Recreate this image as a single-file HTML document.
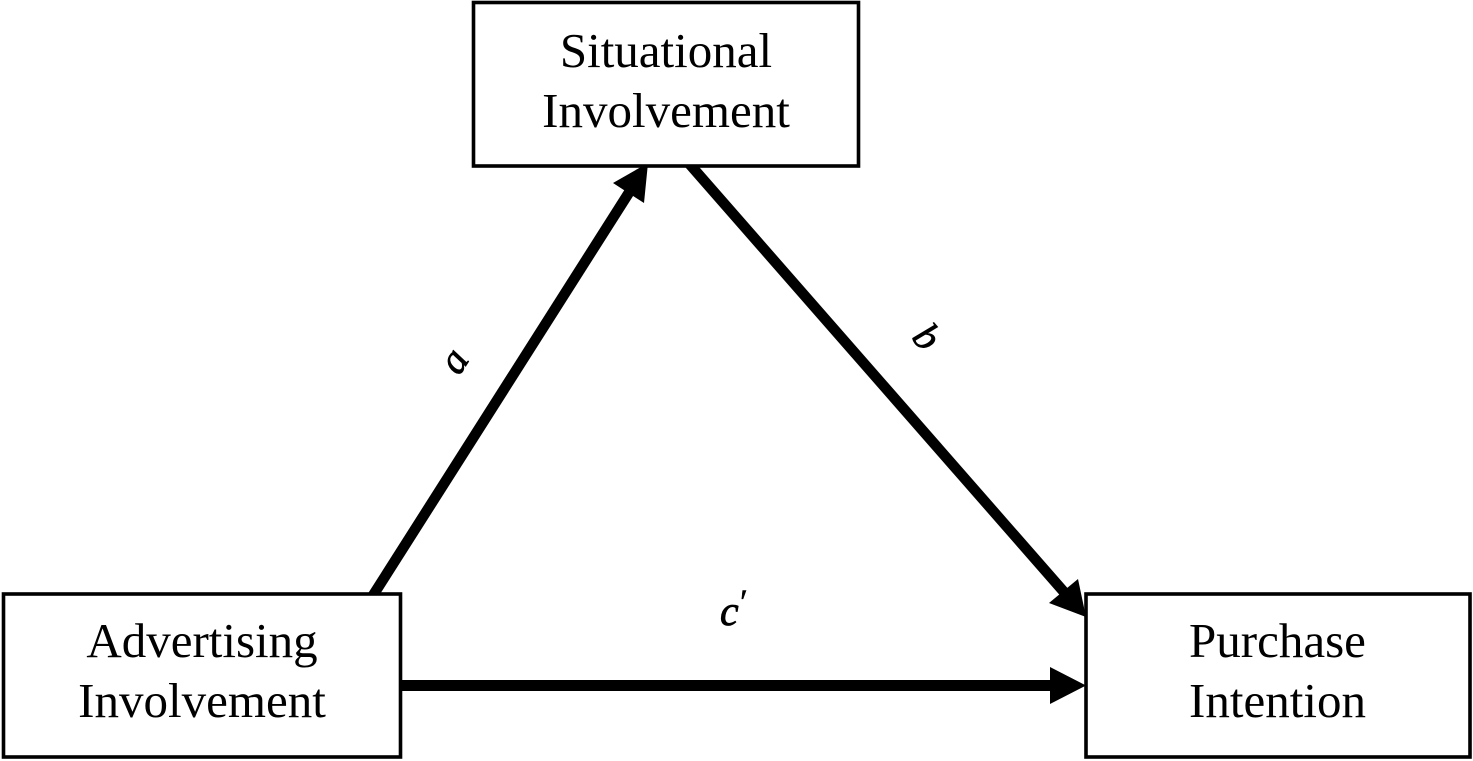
<!DOCTYPE html>
<html>
<head>
<meta charset="utf-8">
<style>
  html, body { margin: 0; padding: 0; background: #ffffff; }
  svg { display: block; }
  text { font-family: "Liberation Serif", "Times New Roman", serif; fill: #000; }
</style>
</head>
<body>
<svg width="1473" height="761" viewBox="0 0 1473 761" xmlns="http://www.w3.org/2000/svg">
  <rect x="0" y="0" width="1473" height="761" fill="#ffffff"/>

  <!-- Arrow a: Advertising -> Situational -->
  <line x1="372" y1="597" x2="630" y2="191" stroke="#000" stroke-width="10.5"/>
  <polygon points="648,163 613,183 644,203" fill="#000"/>

  <!-- Arrow b: Situational -> Purchase -->
  <line x1="686" y1="160" x2="1064" y2="592" stroke="#000" stroke-width="10.5"/>
  <polygon points="1086,617 1049,603 1078,579" fill="#000"/>

  <!-- Arrow c': Advertising -> Purchase -->
  <line x1="400" y1="685.5" x2="1052" y2="685.5" stroke="#000" stroke-width="11"/>
  <polygon points="1050,667 1086,685.5 1050,704" fill="#000"/>

  <!-- Boxes -->
  <rect x="473.5" y="2.5" width="385" height="163.5" fill="#ffffff" stroke="#000" stroke-width="3.6"/>
  <rect x="3.5" y="594" width="397" height="163" fill="#ffffff" stroke="#000" stroke-width="3.6"/>
  <rect x="1086" y="594" width="384" height="163" fill="#ffffff" stroke="#000" stroke-width="3.6"/>

  <!-- Box labels -->
  <text x="666" y="67" font-size="49" text-anchor="middle">Situational</text>
  <text x="666" y="127" font-size="49" text-anchor="middle">Involvement</text>

  <text x="202" y="657" font-size="49" text-anchor="middle">Advertising</text>
  <text x="202" y="717" font-size="49" text-anchor="middle">Involvement</text>

  <text x="1277.5" y="657" font-size="49" text-anchor="middle">Purchase</text>
  <text x="1277.5" y="717" font-size="49" text-anchor="middle">Intention</text>

  <!-- Path labels -->
  <g transform="translate(457,363) rotate(-57)">
    <text x="0" y="9" font-size="41" font-style="italic" text-anchor="middle" stroke="#000" stroke-width="0.7">a</text>
  </g>
  <g transform="translate(927,337) rotate(49)">
    <text x="0" y="13" font-size="40" font-style="italic" text-anchor="middle" stroke="#000" stroke-width="0.7">b</text>
  </g>
  <text x="720" y="625" font-size="42" font-style="italic" stroke="#000" stroke-width="0.8">c</text>
  <text x="740" y="614" font-size="36" stroke="#000" stroke-width="0.4">′</text>
</svg>
</body>
</html>
